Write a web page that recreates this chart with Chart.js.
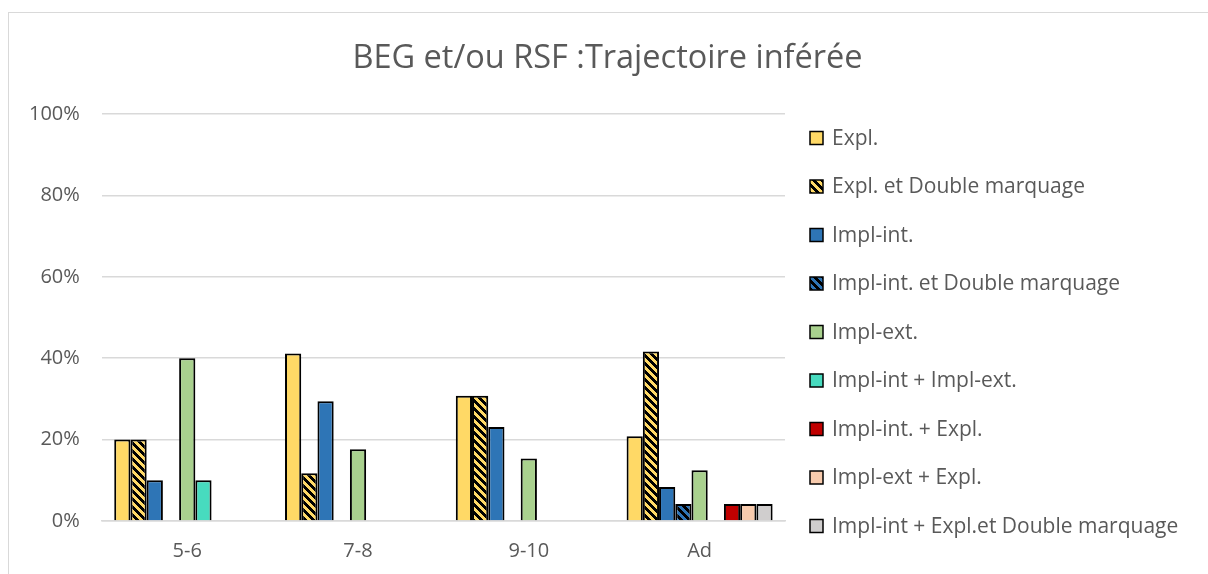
<!DOCTYPE html>
<html lang="fr">
<head>
<meta charset="utf-8">
<title>BEG et/ou RSF</title>
<script src="https://cdn.jsdelivr.net/npm/chart.js@4.4.1/dist/chart.umd.min.js"></script>
<style>
  html, body { margin: 0; padding: 0; background: #fff; }
  #cadre {
    position: absolute; left: 8px; top: 12px; width: 1220px; height: 600px;
    border: 1.5px solid #d9d9d9; box-sizing: border-box;
  }
  #grafico { position: absolute; left: 0; top: 0; }
</style>
</head>
<body>
<div id="cadre"></div>
<canvas id="grafico" width="1208" height="574"></canvas>
<script>
// categories (tranches d'âge) et séries en pourcentage
const categories = ["5-6", "7-8", "9-10", "Ad"];
const expl            = [20, 41.18, 30.77, 20.83];
const explDouble      = [20, 11.76, 30.77, 41.67];
const implInt         = [10, 29.41, 23.08, 8.33];
const implIntDouble   = [null, null, null, 4.17];
const implExt         = [40, 17.65, 15.38, 12.5];
const implIntExt      = [10, null, null, null];
const implIntExpl     = [null, null, null, 4.17];
const implExtExpl     = [null, null, null, 4.17];
const implIntExplDbl  = [null, null, null, 4.17];
const ticksY = [0, 20, 40, 60, 80, 100];

const gris = '#595959';
const police = "'Open Sans', 'Liberation Sans', sans-serif";

// motif hachuré (diagonale large vers le bas)
function hachure(couleur) {
  const c = document.createElement('canvas');
  c.width = 8; c.height = 8;
  const g = c.getContext('2d');
  for (let y = 0; y < 8; y++) {
    for (let x = 0; x < 8; x++) {
      g.fillStyle = ((x - y + 16) % 8) < 4 ? '#000' : couleur;
      g.fillRect(x, y, 1, 1);
    }
  }
  return g.createPattern(c, 'repeat');
}

function serie(label, data, fond) {
  return {
    label: label,
    data: data,
    backgroundColor: fond,
    borderColor: '#000',
    borderWidth: 2,
    borderSkipped: 'bottom'
  };
}

// légende verticale à droite du graphique, une ligne par série
const legendeDroite = {
  id: 'legendeDroite',
  afterDraw(chart, args, opts) {
    const g = chart.ctx;
    const x = chart.chartArea.right + opts.marge;
    g.save();
    g.font = opts.taille + 'px ' + police;
    g.textBaseline = 'middle';
    g.textAlign = 'left';
    chart.data.datasets.forEach((ds, i) => {
      const y = opts.haut + i * opts.pas;
      g.fillStyle = ds.backgroundColor;
      g.fillRect(x, y - 6.5, 13, 13);
      g.lineWidth = 1.5;
      g.strokeStyle = '#000';
      g.strokeRect(x, y - 6.5, 13, 13);
      g.fillStyle = gris;
      g.fillText(ds.label, x + 22, y + 1);
    });
    g.restore();
  }
};

const ctx = document.getElementById('grafico').getContext('2d');

const grafico = new Chart(ctx, {
  type: 'bar',
  data: {
    labels: categories,
    datasets: [
      serie('Expl.', expl, '#FFD966'),
      serie('Expl. et Double marquage', explDouble, hachure('#FFD966')),
      serie('Impl-int.', implInt, '#2E75B6'),
      serie('Impl-int. et Double marquage', implIntDouble, hachure('#2E75B6')),
      serie('Impl-ext.', implExt, '#A9D18E'),
      serie('Impl-int + Impl-ext.', implIntExt, '#47DBBF'),
      serie('Impl-int. + Expl.', implIntExpl, '#C00000'),
      serie('Impl-ext + Expl.', implExtExpl, '#F8CBAD'),
      serie('Impl-int + Expl.et Double marquage', implIntExplDbl, '#D0CECE')
    ]
  },
  options: {
    responsive: false,
    animation: false,
    devicePixelRatio: 1,
    datasets: {
      bar: { categoryPercentage: 0.855, barPercentage: 1 }
    },
    layout: { padding: { left: 7, right: 0, bottom: 1 } },
    plugins: {
      title: {
        display: true,
        text: 'BEG et/ou RSF :Trajectoire inférée',
        color: gris,
        font: { family: police, size: 32.5, weight: 'normal' },
        padding: { top: 39, bottom: 36 }
      },
      legend: { display: false },
      legendeDroite: { marge: 25, haut: 138, pas: 48.5, taille: 21 },
      tooltip: { enabled: false }
    },
    scales: {
      x: {
        grid: { display: false },
        border: { color: '#d9d9d9', width: 1.5 },
        ticks: { color: gris, font: { family: police, size: 20 }, padding: 10 }
      },
      y: {
        min: 0,
        max: 100,
        afterBuildTicks: axe => { axe.ticks = ticksY.map(v => ({ value: v })); },
        grid: { color: '#d9d9d9', lineWidth: 1.5, drawTicks: false },
        border: { display: false },
        ticks: {
          color: gris,
          font: { family: police, size: 20 },
          padding: 22,
          callback: v => v + '%'
        }
      },
      // axe vide à droite : réserve la place de la légende
      reserve: {
        type: 'linear',
        axis: 'y',
        position: 'right',
        grid: { display: false, drawTicks: false },
        border: { display: false },
        ticks: { display: false },
        afterFit: axe => { axe.width = 423; }
      }
    }
  },
  plugins: [legendeDroite]
});
</script>
</body>
</html>
